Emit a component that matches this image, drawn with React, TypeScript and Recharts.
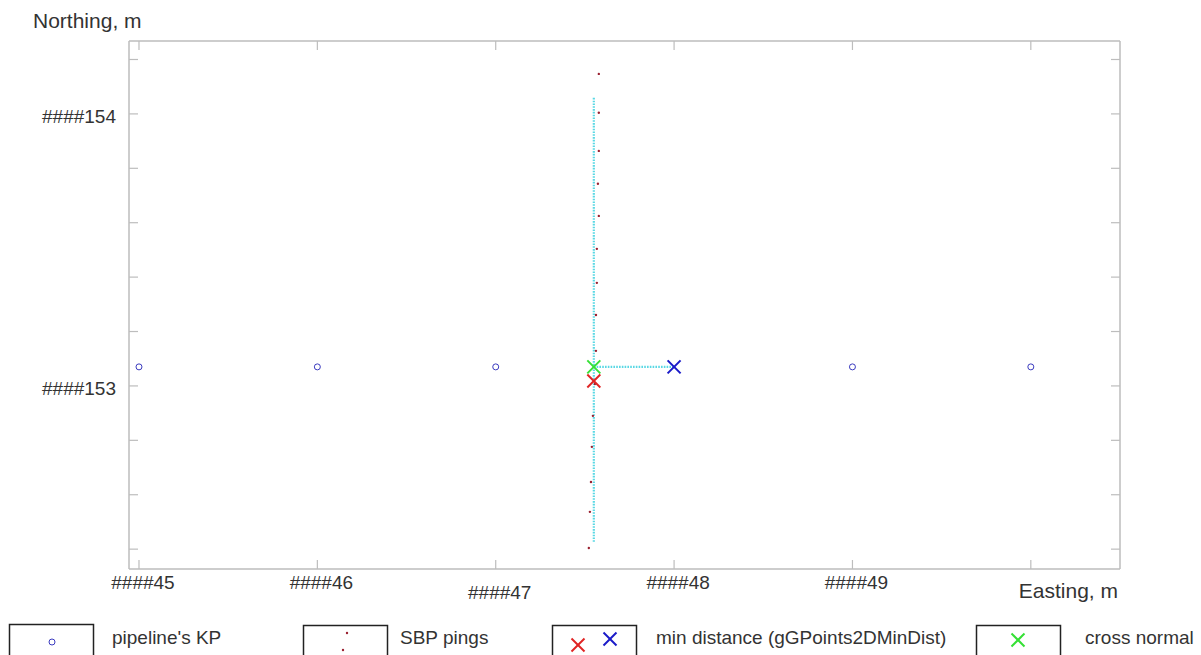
import React from 'react';
import { ScatterChart, Scatter, XAxis, YAxis } from 'recharts';

// ---- data ----
const kpEasting = [45, 46, 47, 49, 50];
const kpNorthing = [153.07, 153.07, 153.07, 153.07, 153.07];

const pingEasting = [47.578, 47.578, 47.578, 47.573, 47.578, 47.567, 47.567, 47.562, 47.562, 47.556, 47.545, 47.539, 47.534, 47.528, 47.522];
const pingNorthing = [154.147, 154.004, 153.864, 153.743, 153.625, 153.504, 153.379, 153.261, 153.129, 153.007, 152.89, 152.776, 152.647, 152.537, 152.404];

const pingLineEasting = [47.55, 47.55];
const pingLineNorthing = [154.059, 152.423];
const normalLineEasting = [47.55, 48.0];
const normalLineNorthing = [153.07, 153.07];

const minDistRedPt = [{ x: 47.55, y: 153.018 }];
const minDistBluePt = [{ x: 48.0, y: 153.07 }];
const crossNormalPt = [{ x: 47.55, y: 153.07 }];

const xTicks = [45, 46, 47, 48, 49, 50];
const xTickLabels = ['####45', '####46', '####47', '####48', '####49', ''];
const yTicks = [152.4, 152.6, 152.8, 153, 153.2, 153.4, 153.6, 153.8, 154, 154.2];
const yTickLabelMap: Record<string, string> = { '153': '####153', '154': '####154' };

const xDomain = [44.944, 50.5];
const yDomain = [152.327, 154.268];

const legendLabels = ["pipeline's KP", 'SBP pings', 'min distance (gGPoints2DMinDist)', 'cross normal'];

const zip = (xs: number[], ys: number[]) => xs.map((x, i) => ({ x, y: ys[i] }));
const kpData = zip(kpEasting, kpNorthing);
const pingData = zip(pingEasting, pingNorthing);
const pingLineData = zip(pingLineEasting, pingLineNorthing);
const normalLineData = zip(normalLineEasting, normalLineNorthing);

// ---- styles ----
const FONT = 'Liberation Sans, Arial, Helvetica, sans-serif';
const AXIS = '#bdbdbd';
const TEXT = '#333333';
const BLUE_KP = '#3b3bbf';
const PING = '#9a2030';
const CYAN = '#5ad8e4';
const RED = '#e02424';
const BLUE = '#1a1ac8';
const GREEN = '#35e035';
const TICK_LEN = 9;

const Cross = ({ cx, cy, color, h = 6.5 }: any) => (
  <g>
    <line x1={cx - h} y1={cy - h} x2={cx + h} y2={cy + h} stroke={color} strokeWidth={2} />
    <line x1={cx - h} y1={cy + h} x2={cx + h} y2={cy - h} stroke={color} strokeWidth={2} />
  </g>
);

const BottomTick = (props: any) => {
  const { x, y, payload, index } = props;
  const label = xTickLabels[index] ?? '';
  const dy = payload.value === 47 ? 30 : 20;
  return (
    <g>
      <line x1={x} y1={y} x2={x} y2={y - TICK_LEN} stroke={AXIS} strokeWidth={1.2} />
      <text x={x + 4} y={y + dy} textAnchor="middle" fill={TEXT} fontSize={19} fontFamily={FONT}>{label}</text>
    </g>
  );
};
const TopTick = (props: any) => {
  const { x, y } = props;
  return <line x1={x} y1={y} x2={x} y2={y + TICK_LEN} stroke={AXIS} strokeWidth={1.2} />;
};
const LeftTick = (props: any) => {
  const { x, y, payload } = props;
  const key = String(Math.round(payload.value * 10) / 10);
  const label = yTickLabelMap[key] ?? '';
  return (
    <g>
      <line x1={x} y1={y} x2={x + TICK_LEN} y2={y} stroke={AXIS} strokeWidth={1.2} />
      <text x={x - 13} y={y + 9} textAnchor="end" fill={TEXT} fontSize={19} fontFamily={FONT}>{label}</text>
    </g>
  );
};
const RightTick = (props: any) => {
  const { x, y } = props;
  return <line x1={x} y1={y} x2={x - TICK_LEN} y2={y} stroke={AXIS} strokeWidth={1.2} />;
};

const YTitle = (props: any) => {
  const vb = props.viewBox || {};
  return (
    <text x={(vb.x ?? 128) + (vb.width ?? 1) - 96} y={(vb.y ?? 41) - 13} fill={TEXT} fontSize={21} fontFamily={FONT}>Northing, m</text>
  );
};
const XTitle = (props: any) => {
  const vb = props.viewBox || {};
  return (
    <text x={(vb.x ?? 129) + (vb.width ?? 991) - 2} y={(vb.y ?? 569) + 29} textAnchor="end" fill={TEXT} fontSize={21} fontFamily={FONT}>Easting, m</text>
  );
};

const Legend = () => (
  <svg width={1201} height={655} style={{ position: 'absolute', left: 0, top: 0, pointerEvents: 'none' }}>
    <g fontFamily={FONT} fontSize={19} fill={TEXT}>
      <rect x={9.5} y={624.5} width={84} height={45} fill="white" stroke="#222" strokeWidth={1.5} />
      <circle cx={52} cy={642} r={3} fill="none" stroke={BLUE_KP} strokeWidth={1} />
      <text x={112} y={644}>{legendLabels[0]}</text>

      <rect x={303.5} y={625.5} width={84} height={45} fill="white" stroke="#222" strokeWidth={1.5} />
      <circle cx={347} cy={633} r={1.2} fill={PING} />
      <circle cx={343} cy={650} r={1.2} fill={PING} />
      <text x={400} y={644}>{legendLabels[1]}</text>

      <rect x={552.5} y={625.5} width={84} height={45} fill="white" stroke="#222" strokeWidth={1.5} />
      <Cross cx={578} cy={645} color={RED} />
      <Cross cx={610} cy={639} color={BLUE} />
      <text x={656} y={644}>{legendLabels[2]}</text>

      <rect x={976.5} y={625.5} width={84} height={45} fill="white" stroke="#222" strokeWidth={1.5} />
      <Cross cx={1018} cy={640} color={GREEN} />
      <text x={1085} y={644}>{legendLabels[3]}</text>
    </g>
  </svg>
);

export default function App() {
  return (
    <div style={{ position: 'absolute', left: 0, top: 0, width: 1201, height: 655, background: '#fff', fontFamily: FONT }}>
      <ScatterChart width={1201} height={655} margin={{ top: 40, left: 128, right: 80, bottom: 85 }}>
        <XAxis
          xAxisId="b" type="number" dataKey="x" domain={xDomain} ticks={xTicks} allowDataOverflow
          orientation="bottom" height={1} tickSize={0} tickMargin={0} tickLine={false}
          axisLine={{ stroke: AXIS, strokeWidth: 1.5 }} tick={BottomTick} interval={0}
          label={XTitle}
        />
        <XAxis
          xAxisId="t" type="number" dataKey="x" domain={xDomain} ticks={xTicks} allowDataOverflow
          orientation="top" height={1} tickSize={0} tickMargin={0} tickLine={false}
          axisLine={{ stroke: AXIS, strokeWidth: 1.5 }} tick={TopTick} interval={0}
        />
        <YAxis
          yAxisId="l" type="number" dataKey="y" domain={yDomain} ticks={yTicks} allowDataOverflow
          orientation="left" width={1} tickSize={0} tickMargin={0} tickLine={false}
          axisLine={{ stroke: AXIS, strokeWidth: 1.5 }} tick={LeftTick} interval={0}
          label={YTitle}
        />
        <YAxis
          yAxisId="r" type="number" dataKey="y" domain={yDomain} ticks={yTicks} allowDataOverflow
          orientation="right" width={1} tickSize={0} tickMargin={0} tickLine={false}
          axisLine={{ stroke: AXIS, strokeWidth: 1.5 }} tick={RightTick} interval={0}
        />
        <Scatter
          xAxisId="b" yAxisId="l" data={pingLineData} isAnimationActive={false}
          line={{ stroke: CYAN, strokeWidth: 2.2, strokeDasharray: '1.6 1.2' }}
          shape={() => <g />}
        />
        <Scatter
          xAxisId="b" yAxisId="l" data={normalLineData} isAnimationActive={false}
          line={{ stroke: CYAN, strokeWidth: 2.2, strokeDasharray: '1.6 1.2' }}
          shape={() => <g />}
        />
        <Scatter
          xAxisId="b" yAxisId="l" data={kpData} isAnimationActive={false}
          shape={(p: any) => <circle cx={p.cx} cy={p.cy} r={3} fill="none" stroke={BLUE_KP} strokeWidth={1} />}
        />
        <Scatter
          xAxisId="b" yAxisId="l" data={pingData} isAnimationActive={false}
          shape={(p: any) => <circle cx={p.cx} cy={p.cy} r={1.2} fill={PING} />}
        />
        <Scatter
          xAxisId="b" yAxisId="l" data={minDistRedPt} isAnimationActive={false}
          shape={(p: any) => <Cross cx={p.cx} cy={p.cy} color={RED} />}
        />
        <Scatter
          xAxisId="b" yAxisId="l" data={minDistBluePt} isAnimationActive={false}
          shape={(p: any) => <Cross cx={p.cx} cy={p.cy} color={BLUE} />}
        />
        <Scatter
          xAxisId="b" yAxisId="l" data={crossNormalPt} isAnimationActive={false}
          shape={(p: any) => <Cross cx={p.cx} cy={p.cy} color={GREEN} />}
        />
      </ScatterChart>
      <Legend />
    </div>
  );
}
